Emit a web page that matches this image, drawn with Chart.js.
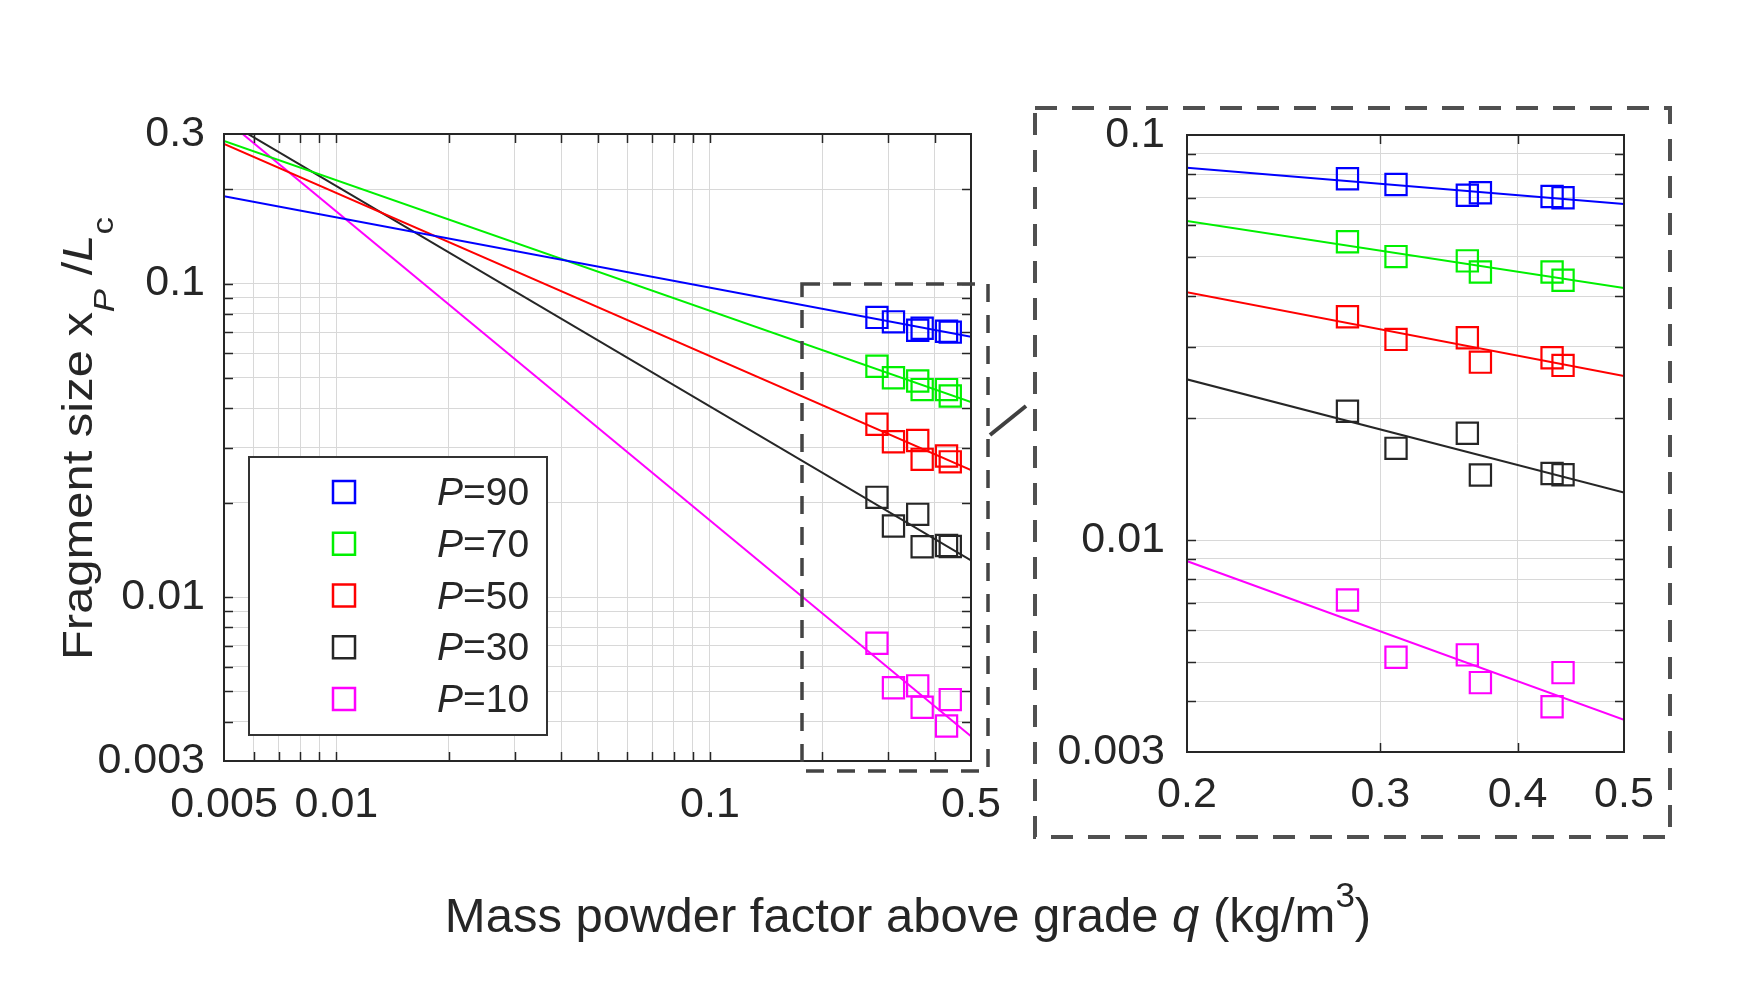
<!DOCTYPE html>
<html>
<head>
<meta charset="utf-8">
<script src="https://cdn.jsdelivr.net/npm/chart.js@4.4.0/dist/chart.umd.min.js"></script>
<style>
html,body{margin:0;padding:0;background:#ffffff;}
#wrap{position:relative;width:1750px;height:1000px;background:#ffffff;}
#wrap canvas{position:absolute;left:0;top:0;}
</style>
</head>
<body>
<div id="wrap">
<canvas id="mainChart" width="1750" height="1000"></canvas>
<canvas id="insetChart" width="1750" height="1000"></canvas>
</div>
<script>
// ---------------- data ----------------
const seriesLabels = ['P=90', 'P=70', 'P=50', 'P=30', 'P=10'];
const seriesColors = ['#0000ff', '#00f000', '#ff0000', '#262626', '#ff00ff'];

const powderFactor = [0.28, 0.31, 0.36, 0.37, 0.43, 0.44];
const sizeP90 = [0.0780, 0.0755, 0.0710, 0.0720, 0.0705, 0.0700];
const sizeP70 = [0.0545, 0.0501, 0.0489, 0.0459, 0.0459, 0.0438];
const sizeP50 = [0.0356, 0.0313, 0.0316, 0.0275, 0.0282, 0.0270];
const sizeP30 = [0.0208, 0.01685, 0.01836, 0.01448, 0.0146, 0.0145];
const sizeP10 = [0.00712, 0.00514, 0.00521, 0.00445, 0.00388, 0.00471];

// fitted lines: values at the two ends of the main plot
const fitQ = [0.005, 0.5];
const fitP90 = [0.190, 0.0676];
const fitP70 = [0.285, 0.0419];
const fitP50 = [0.279, 0.0254];
const fitP30 = [0.333, 0.0131];
const fitP10 = [0.336, 0.0036];

const sizeValues = [sizeP90, sizeP70, sizeP50, sizeP30, sizeP10];
const fitValues = [fitP90, fitP70, fitP50, fitP30, fitP10];

// ticks
const mainXTicks = [0.005,0.006,0.007,0.008,0.009,0.01,0.02,0.03,0.04,0.05,0.06,0.07,0.08,0.09,0.1,0.2,0.3,0.4,0.5];
const mainXTickText = ['0.005','','','','','0.01','','','','','','','','','0.1','','','','0.5'];
const mainYTicks = [0.003,0.004,0.005,0.006,0.007,0.008,0.009,0.01,0.02,0.03,0.04,0.05,0.06,0.07,0.08,0.09,0.1,0.2,0.3];
const mainYTickText = ['0.003','','','','','','','0.01','','','','','','','','','0.1','','0.3'];
const insetXTicks = [0.2,0.3,0.4,0.5];
const insetXTickText = ['0.2','0.3','0.4','0.5'];
const insetYTicks = [0.003,0.004,0.005,0.006,0.007,0.008,0.009,0.01,0.02,0.03,0.04,0.05,0.06,0.07,0.08,0.09,0.1];
const insetYTickText = ['0.003','','','','','','','0.01','','','','','','','','','0.1'];

// ---------------- helpers ----------------
const FAM = '"Liberation Sans", Arial, Helvetica, sans-serif';
const TXT = '#262626';

function buildDatasets() {
  const ds = [];
  seriesLabels.forEach((lab, k) => {
    ds.push({
      label: lab + ' fit',
      data: fitQ.map((q, i) => ({x: q, y: fitValues[k][i]})),
      showLine: true, borderColor: seriesColors[k], borderWidth: 2,
      pointRadius: 0, fill: false, clip: 0, order: 2
    });
    ds.push({
      label: lab,
      data: powderFactor.map((q, i) => ({x: q, y: sizeValues[k][i]})),
      showLine: false, borderColor: seriesColors[k], backgroundColor: 'rgba(0,0,0,0)',
      pointStyle: 'rect', pointRadius: 15, pointBorderWidth: 2.2, order: 1
    });
  });
  return ds;
}

function fixAxis(horizontal, size) {
  return function (s) {
    if (horizontal) s.height = size; else s.width = size;
    s.paddingLeft = 0; s.paddingRight = 0; s.paddingTop = 0; s.paddingBottom = 0;
  };
}

function axis(horizontal, min, max, ticks, texts, size, pad) {
  return {
    type: 'logarithmic', min: min, max: max,
    afterBuildTicks: s => { s.ticks = ticks.map(v => ({value: v})); },
    afterFit: fixAxis(horizontal, size),
    ticks: {
      autoSkip: false, maxRotation: 0, minRotation: 0, padding: pad,
      color: TXT, font: {family: FAM, size: 43},
      callback: (v, i) => texts[i]
    },
    grid: {color: '#d8d8d8', lineWidth: 1, drawTicks: false},
    border: {display: false}
  };
}

const framePlugin = {
  id: 'frame',
  afterDatasetsDraw(chart, args, opts) {
    const {ctx, chartArea: a, scales} = chart;
    ctx.save();
    ctx.strokeStyle = TXT;
    ctx.lineWidth = 1.5;
    const L = 9;
    const seg = (x1, y1, x2, y2) => { ctx.beginPath(); ctx.moveTo(x1, y1); ctx.lineTo(x2, y2); ctx.stroke(); };
    opts.xTicks.forEach(v => {
      const p = Math.round(scales.x.getPixelForValue(v)) + 0.5;
      if (p <= a.left + 2 || p >= a.right - 2) return;
      seg(p, a.bottom, p, a.bottom - L);
      seg(p, a.top, p, a.top + L);
    });
    opts.yTicks.forEach(v => {
      const p = Math.round(scales.y.getPixelForValue(v)) + 0.5;
      if (p <= a.top + 2 || p >= a.bottom - 2) return;
      seg(a.left, p, a.left + L, p);
      seg(a.right, p, a.right - L, p);
    });
    ctx.lineWidth = 2;
    ctx.strokeRect(a.left, a.top, a.right - a.left, a.bottom - a.top);
    ctx.restore();
  }
};

function drawRich(ctx, parts, startX, baseY) {
  let x = startX;
  parts.forEach(p => {
    ctx.font = (p.it ? 'italic ' : '') + p.size + 'px ' + FAM;
    ctx.fillText(p.t, x, baseY + (p.dy || 0));
    x += ctx.measureText(p.t).width;
  });
}
function richWidth(ctx, parts) {
  let w = 0;
  parts.forEach(p => { ctx.font = (p.it ? 'italic ' : '') + p.size + 'px ' + FAM; w += ctx.measureText(p.t).width; });
  return w;
}

const decorPlugin = {
  id: 'decor',
  afterDraw(chart) {
    const ctx = chart.ctx;
    ctx.save();
    // legend
    ctx.fillStyle = '#ffffff';
    ctx.fillRect(249, 457, 298, 278);
    ctx.strokeStyle = '#333333';
    ctx.lineWidth = 2;
    ctx.strokeRect(249, 457, 298, 278);
    seriesLabels.forEach((lab, k) => {
      const cy = 492 + k * 51.75;
      ctx.strokeStyle = seriesColors[k];
      ctx.lineWidth = 2.5;
      ctx.strokeRect(344 - 11, cy - 11, 22, 22);
      ctx.fillStyle = TXT;
      ctx.textBaseline = 'alphabetic';
      ctx.textAlign = 'left';
      const eq = lab.indexOf('=');
      drawRich(ctx, [{t: lab.slice(0, eq), size: 39, it: true}, {t: lab.slice(eq), size: 39}], 437, cy + 13);
    });

    // y axis title (rotated)
    ctx.fillStyle = TXT;
    const yParts = [
      {t: 'Fragment size x', size: 42},
      {t: 'P', size: 30, it: true, dy: 22},
      {t: ' /', size: 42},
      {t: 'L', size: 42, it: true},
      {t: 'c', size: 30, dy: 21}
    ];
    const yw = richWidth(ctx, yParts);
    ctx.save();
    ctx.translate(92, 438.5);
    ctx.rotate(-Math.PI / 2);
    ctx.scale(443 / yw, 1);
    drawRich(ctx, yParts, -yw / 2, 0);
    ctx.restore();

    // x axis title
    const xParts = [
      {t: 'Mass powder factor above grade ', size: 49},
      {t: 'q', size: 49, it: true},
      {t: ' (kg/m', size: 49},
      {t: '3', size: 35, dy: -25},
      {t: ')', size: 49}
    ];
    const xw = richWidth(ctx, xParts);
    drawRich(ctx, xParts, 908 - xw / 2, 932);

    // dashed zoom rectangle in main plot
    ctx.strokeStyle = '#444444';
    ctx.lineWidth = 3.5;
    ctx.setLineDash([18, 13]);
    ctx.strokeRect(802, 284, 186, 487);
    // outer box round inset
    ctx.strokeStyle = '#505050';
    ctx.lineWidth = 4;
    ctx.setLineDash([22, 15]);
    ctx.strokeRect(1035, 108, 635, 729);
    // connector
    ctx.setLineDash([]);
    ctx.strokeStyle = '#404040';
    ctx.lineWidth = 4;
    ctx.beginPath();
    ctx.moveTo(990, 435);
    ctx.lineTo(1026, 406);
    ctx.stroke();
    ctx.restore();
  }
};

Chart.defaults.font.family = FAM;

new Chart(document.getElementById('mainChart'), {
  type: 'scatter',
  data: {datasets: buildDatasets()},
  options: {
    responsive: false, animation: false, devicePixelRatio: 1, events: [],
    layout: {padding: {left: 24, top: 134, right: 779, bottom: 139}},
    plugins: {legend: {display: false}, tooltip: {enabled: false},
      frame: {xTicks: mainXTicks, yTicks: mainYTicks}},
    scales: {
      x: axis(true, 0.005, 0.5, mainXTicks, mainXTickText, 100, 18),
      y: axis(false, 0.003, 0.3, mainYTicks, mainYTickText, 200, 19)
    }
  },
  plugins: [framePlugin, decorPlugin]
});

new Chart(document.getElementById('insetChart'), {
  type: 'scatter',
  data: {datasets: buildDatasets()},
  options: {
    responsive: false, animation: false, devicePixelRatio: 1, events: [],
    layout: {padding: {left: 1037, top: 135, right: 126, bottom: 148}},
    plugins: {legend: {display: false}, tooltip: {enabled: false},
      frame: {xTicks: insetXTicks, yTicks: insetYTicks}},
    scales: {
      x: axis(true, 0.2, 0.5, insetXTicks, insetXTickText, 100, 17),
      y: axis(false, 0.003, 0.1, insetYTicks, insetYTickText, 150, 22)
    }
  },
  plugins: [framePlugin]
});
</script>
</body>
</html>
